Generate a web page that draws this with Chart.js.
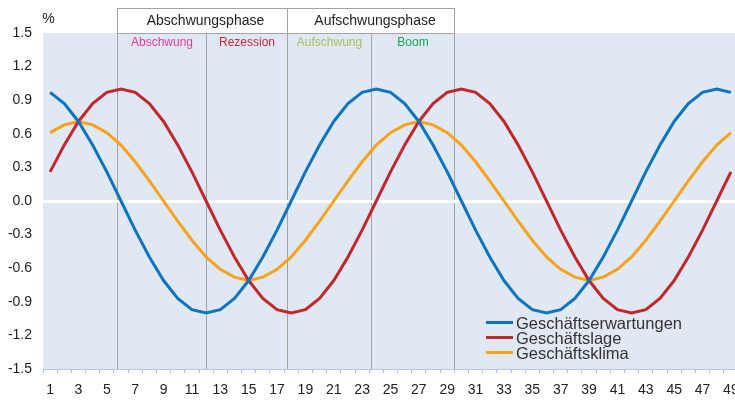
<!DOCTYPE html>
<html>
<head>
<meta charset="utf-8">
<script src="https://cdn.jsdelivr.net/npm/chart.js@4"></script>
<style>
html, body { margin: 0; padding: 0; background: #fff; overflow: hidden; }
#wrap { width: 738px; height: 401px; }
</style>
</head>
<body>
<div id="wrap"><canvas id="chart" width="738" height="401"></canvas></div>
<script>
// periods on the x axis
var periods = ["1","2","3","4","5","6","7","8","9","10","11","12","13","14","15","16","17","18","19","20",
  "21","22","23","24","25","26","27","28","29","30","31","32","33","34","35","36","37","38","39","40",
  "41","42","43","44","45","46","47","48","49"];

// series values
var erwartungen = [0.97, 0.87, 0.71, 0.50, 0.26, 0.00, -0.26, -0.50, -0.71, -0.87, -0.97, -1.00, -0.97, -0.87, -0.71, -0.50, -0.26,
  0.00, 0.26, 0.50, 0.71, 0.87, 0.97, 1.00, 0.97, 0.87, 0.71, 0.50, 0.26, 0.00, -0.26, -0.50, -0.71, -0.87, -0.97, -1.00,
  -0.97, -0.87, -0.71, -0.50, -0.26, 0.00, 0.26, 0.50, 0.71, 0.87, 0.97, 1.00, 0.97];
var lage = [0.26, 0.50, 0.71, 0.87, 0.97, 1.00, 0.97, 0.87, 0.71, 0.50, 0.26, 0.00, -0.26, -0.50, -0.71, -0.87, -0.97, -1.00,
  -0.97, -0.87, -0.71, -0.50, -0.26, 0.00, 0.26, 0.50, 0.71, 0.87, 0.97, 1.00, 0.97, 0.87, 0.71, 0.50, 0.26, 0.00,
  -0.26, -0.50, -0.71, -0.87, -0.97, -1.00, -0.97, -0.87, -0.71, -0.50, -0.26, 0.00, 0.26];
var klima = [0.61, 0.68, 0.71, 0.68, 0.61, 0.50, 0.35, 0.18, 0.00, -0.18, -0.35, -0.50, -0.61, -0.68, -0.71, -0.68, -0.61,
  -0.50, -0.35, -0.18, 0.00, 0.18, 0.35, 0.50, 0.61, 0.68, 0.71, 0.68, 0.61, 0.50, 0.35, 0.18, 0.00, -0.18, -0.35, -0.50,
  -0.61, -0.68, -0.71, -0.68, -0.61, -0.50, -0.35, -0.18, 0.00, 0.18, 0.35, 0.50, 0.61];

var seriesNames = ["Geschäftserwartungen", "Geschäftslage", "Geschäftsklima"];

// y tick labels
var yTicks = [1.5, 1.2, 0.9, 0.6, 0.3, 0.0, -0.3, -0.6, -0.9, -1.2, -1.5];

// phase boxes at the top, boundaries in period units
var phaseNames = ["Abschwungsphase", "Aufschwungsphase"];
var subPhaseNames = ["Abschwung", "Rezession", "Aufschwung", "Boom"];
var phaseBounds = [5.72, 12.02, 17.71, 23.66, 29.46];

var subPhaseColors = ["#e5399a", "#c4283f", "#a8c05a", "#16a85a"];
var FONT = "'Liberation Sans', Arial, sans-serif";

var phasePlugin = {
  id: "phases",
  beforeDraw: function(chart) {
    var ctx = chart.ctx, a = chart.chartArea, x = chart.scales.x;
    ctx.save();
    ctx.fillStyle = "#e0e8f4";
    ctx.fillRect(a.left, a.top, a.right - a.left, a.bottom - a.top);
    var px = phaseBounds.map(function(v) { return Math.round(x.getPixelForValue(v - 1)) + 0.5; });
    ctx.strokeStyle = "#a4a4a4";
    ctx.lineWidth = 1;
    ctx.beginPath();
    // box on top
    ctx.moveTo(px[0], 8.5); ctx.lineTo(px[4], 8.5);
    ctx.moveTo(px[0], a.top + 0.5); ctx.lineTo(px[4], a.top + 0.5);
    px.forEach(function(p, i) {
      ctx.moveTo(p, i % 2 === 0 ? 8 : a.top);
      ctx.lineTo(p, a.bottom);
    });
    ctx.stroke();
    ctx.textAlign = "center";
    ctx.textBaseline = "middle";
    ctx.fillStyle = "#222";
    ctx.font = "14px " + FONT;
    ctx.fillText(phaseNames[0], (px[0] + px[2]) / 2 + 3, 21);
    ctx.fillText(phaseNames[1], (px[2] + px[4]) / 2 + 4, 21);
    ctx.font = "12px " + FONT;
    subPhaseNames.forEach(function(n, i) {
      ctx.fillStyle = subPhaseColors[i];
      ctx.fillText(n, (px[i] + px[i + 1]) / 2, 43);
    });
    // unit label
    ctx.fillStyle = "#222";
    ctx.font = "14px " + FONT;
    ctx.fillText("%", 48.5, 19);
    ctx.restore();
  },
  afterDraw: function(chart) {
    var ctx = chart.ctx;
    ctx.save();
    ctx.font = "16.5px " + FONT;
    ctx.textBaseline = "middle";
    ctx.textAlign = "left";
    chart.data.datasets.forEach(function(ds, i) {
      var y = 322.5 + i * 15;
      ctx.strokeStyle = ds.borderColor;
      ctx.lineWidth = 3;
      ctx.beginPath();
      ctx.moveTo(486, y); ctx.lineTo(513, y);
      ctx.stroke();
      ctx.fillStyle = "#333";
      ctx.fillText(ds.label, 516, y + 2);
    });
    ctx.restore();
  }
};

new Chart(document.getElementById("chart"), {
  type: "line",
  data: {
    labels: periods,
    datasets: [
      { label: seriesNames[0], data: erwartungen, borderColor: "#0d74bf", borderWidth: 3, pointRadius: 0, fill: false, tension: 0 },
      { label: seriesNames[1], data: lage, borderColor: "#c1272d", borderWidth: 3, pointRadius: 0, fill: false, tension: 0 },
      { label: seriesNames[2], data: klima, borderColor: "#f7a21b", borderWidth: 3, pointRadius: 0, fill: false, tension: 0 }
    ]
  },
  options: {
    responsive: false,
    animation: false,
    devicePixelRatio: 1,
    layout: { padding: { top: 33, left: 0, right: 0, bottom: 0 } },
    plugins: { legend: { display: false }, tooltip: { enabled: false } },
    scales: {
      x: {
        offset: true,
        grid: { display: true, offset: true, drawOnChartArea: false, drawTicks: true, tickLength: 4, color: "#a9c3e3" },
        border: { display: true, color: "#b3c6de", width: 1 },
        ticks: {
          autoSkip: false, maxRotation: 0, padding: 9, color: "#222",
          font: { family: FONT, size: 14 },
          callback: function(v, i) { return i % 2 === 0 ? periods[i] : ""; }
        },
        afterFit: function(s) { s.height = 32; s.paddingLeft = 0; s.paddingRight = 0; }
      },
      y: {
        min: yTicks[yTicks.length - 1],
        max: yTicks[0],
        afterBuildTicks: function(s) { s.ticks = yTicks.map(function(v) { return { value: v }; }); },
        grid: {
          drawTicks: false,
          lineWidth: 3,
          color: function(c) { return c.tick && Math.abs(c.tick.value) < 1e-9 ? "#ffffff" : "rgba(0,0,0,0)"; }
        },
        border: { display: false },
        ticks: {
          padding: 11, color: "#222",
          font: { family: FONT, size: 14 },
          callback: function(v) { return Number(v).toFixed(1); }
        },
        afterFit: function(s) { s.width = 43; s.paddingTop = 0; s.paddingBottom = 0; }
      }
    }
  },
  plugins: [phasePlugin]
});
</script>
</body>
</html>
